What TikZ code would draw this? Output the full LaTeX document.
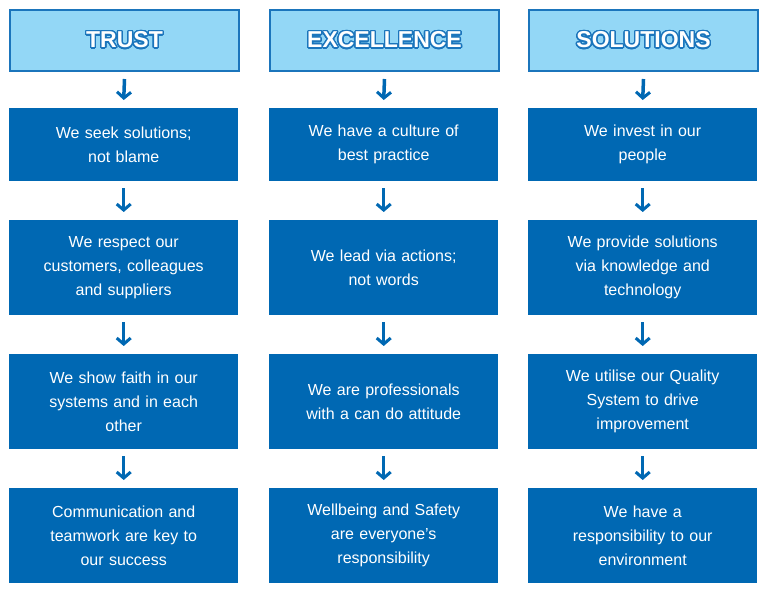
\documentclass[tikz,border=0pt]{standalone}
\usepackage{fontspec}
\setmainfont{Liberation Sans}
\usepackage{contour}
\contourlength{1.3pt}
\contournumber{32}
\usetikzlibrary{arrows.meta}
\definecolor{boxblue}{HTML}{0068B3}
\definecolor{hdrblue}{HTML}{93D7F6}
\definecolor{edgeblue}{HTML}{1B75BC}
\tikzset{
  hdr/.style={draw=edgeblue,line width=2pt,fill=hdrblue,minimum width=229pt,minimum height=61pt,anchor=north west,inner sep=0pt},
  vbox/.style={fill=boxblue,text=white,align=center,anchor=north west,inner sep=0pt,text width=225pt,minimum width=229pt,font=\fontsize{16}{24}\selectfont},
  arr/.style={draw=boxblue,line width=3.5pt,-{Straight Barb[length=6pt,width=14pt,line width=3pt]}}
}
\newcommand{\hdrtext}[1]{\fontsize{23}{24}\selectfont\bfseries\contour{edgeblue}{\color{white}#1}}
\begin{document}
\begin{tikzpicture}[x=1pt,y=-1pt]
\useasboundingbox (0,0) rectangle (762,592);
\node[hdr] (a0) at (9,9) {\hdrtext{TRUST}};
\node[hdr] (b0) at (269,9) {\hdrtext{EXCELLENCE}};
\node[hdr] (c0) at (528,9) {\hdrtext{SOLUTIONS}};
\node[vbox,minimum height=73pt] (a1) at (9,108) {We seek solutions;\\not blame};
\node[vbox,minimum height=95pt] (a2) at (9,220) {We respect our\\customers, colleagues\\and suppliers};
\node[vbox,minimum height=95pt] (a3) at (9,354) {We show faith in our\\systems and in each\\other};
\node[vbox,minimum height=95pt] (a4) at (9,488) {Communication and\\teamwork are key to\\our success};
\node[vbox,minimum height=73pt] (b1) at (269,108) {We have a culture of\\best practice};
\node[vbox,minimum height=95pt] (b2) at (269,220) {We lead via actions;\\not words};
\node[vbox,minimum height=95pt] (b3) at (269,354) {We are professionals\\with a can do attitude};
\node[vbox,minimum height=95pt] (b4) at (269,488) {Wellbeing and Safety\\are everyone’s\\responsibility};
\node[vbox,minimum height=73pt] (c1) at (528,108) {We invest in our\\people};
\node[vbox,minimum height=95pt] (c2) at (528,220) {We provide solutions\\via knowledge and\\technology};
\node[vbox,minimum height=95pt] (c3) at (528,354) {We utilise our Quality\\System to drive\\improvement};
\node[vbox,minimum height=95pt] (c4) at (528,488) {We have a\\responsibility to our\\environment};
\foreach \c in {a,b,c}{
  \foreach \i/\j in {0/1,1/2,2/3,3/4}{
    \draw[arr] ([yshift=-7pt]\c\i.south) -- ([yshift=8pt]\c\j.north);
  }
}
\end{tikzpicture}
\end{document}
